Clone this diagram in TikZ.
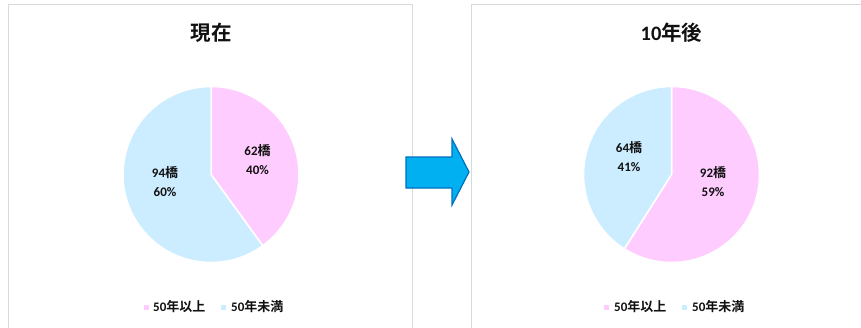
\documentclass[tikz,border=0pt]{standalone}
\usepackage{fontspec}
\setmainfont{Carlito}[BoldFont={Carlito Bold}]
\newfontfamily\cjk{Noto Sans CJK JP}[BoldFont={Noto Sans CJK JP Bold}]
\definecolor{pinkc}{HTML}{FFCCFF}
\definecolor{bluec}{HTML}{CCECFF}
\definecolor{framec}{HTML}{D9D9D9}
\definecolor{arrowfill}{HTML}{00B0F0}
\definecolor{arrowdraw}{HTML}{0070C0}
\definecolor{txt}{HTML}{111111}
\tikzset{
  panel/.style={draw=framec, line width=1pt},
  slice/.style={draw=white, line width=1.5pt},
  lbl/.style={font=\bfseries\fontsize{13}{19}\selectfont, text=txt, align=center, inner sep=0pt},
  ttl/.style={font=\bfseries\fontsize{20.5}{22}\selectfont, text=txt, inner sep=0pt},
  leg/.style={font=\bfseries\fontsize{13}{14}\selectfont, text=txt, anchor=west, inner sep=0pt},
  legsq/.style={minimum size=5pt, inner sep=0pt}
}
\begin{document}
\begin{tikzpicture}[x=1pt,y=1pt]
\useasboundingbox (0,0) rectangle (861,327);
\clip (0,0) rectangle (861,327);
\fill[white] (0,0) rectangle (861,327);
% panels
\draw[panel] (8,322) rectangle (412.5,-10);
\draw[panel] (471,322) rectangle (880,-10);
% titles
\node[ttl] (t1) at (211,294) {\cjk 現在};
\node[ttl] (t2) at (671.5,294) {10{\cjk 年後}};
% left pie
\coordinate (c1) at (211,152.5);
\filldraw[slice, fill=pinkc] (c1) -- ++(90:88) arc[start angle=90, end angle=-54, radius=88] -- cycle;
\filldraw[slice, fill=bluec] (c1) -- ++(-54:88) arc[start angle=-54, end angle=-270, radius=88] -- cycle;
% right pie
\coordinate (c2) at (671.5,152.5);
\filldraw[slice, fill=pinkc] (c2) -- ++(90:88) arc[start angle=90, end angle=-122.4, radius=88] -- cycle;
\filldraw[slice, fill=bluec] (c2) -- ++(-122.4:88) arc[start angle=-122.4, end angle=-270, radius=88] -- cycle;
% data labels
\node[lbl] (l1) at (257.5,167.5) {62{\cjk 橋}\\40\%};
\node[lbl] (l2) at (165,145.5) {94{\cjk 橋}\\60\%};
\node[lbl] (l3) at (629,170) {64{\cjk 橋}\\41\%};
\node[lbl] (l4) at (713,145.5) {92{\cjk 橋}\\59\%};
% legends
\node[legsq, fill=pinkc] (s1) at (146,20) {};
\node[leg] (g1) at (153,20) {50{\cjk 年以上}};
\node[legsq, fill=bluec] (s2) at (223.5,20) {};
\node[leg] (g2) at (231,20) {50{\cjk 年未満}};
\node[legsq, fill=pinkc] (s3) at (606,20) {};
\node[leg] (g3) at (614,20) {50{\cjk 年以上}};
\node[legsq, fill=bluec] (s4) at (684,20) {};
\node[leg] (g4) at (692,20) {50{\cjk 年未満}};
% arrow
\filldraw[fill=arrowfill, draw=arrowdraw, line width=1.2pt, line join=miter]
  (406,170) -- (452,170) -- (452,188) -- (469,155) -- (452,122) -- (452,139) -- (406,139) -- cycle;
\end{tikzpicture}
\end{document}
